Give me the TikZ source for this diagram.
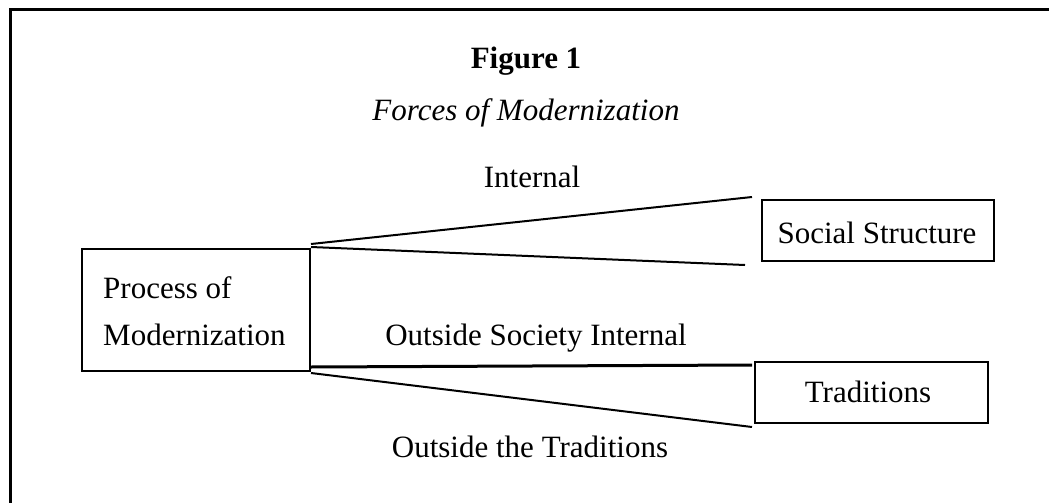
\documentclass[tikz,border=0pt]{standalone}
\usepackage{fontspec}
\setmainfont{Liberation Serif}
\begin{document}
\begin{tikzpicture}[x=1pt,y=-1pt,
  txt/.style={font=\fontsize{31}{47}\selectfont, inner sep=0pt, anchor=base},
  boxed/.style={draw, line width=2pt},
  conn/.style={line width=2pt}]
\useasboundingbox (0,0) rectangle (1049,503);
\clip (0,0) rectangle (1049,503);
\draw[line width=3pt] (10,10) rectangle (1070,530);
% boxes
\node[boxed, minimum width=228pt, minimum height=122pt, anchor=north west, inner sep=0pt] (proc) at (81,248) {};
\node[boxed, minimum width=232pt, minimum height=61pt, anchor=north west, inner sep=0pt] (soc) at (761,199) {};
\node[boxed, minimum width=233pt, minimum height=61pt, anchor=north west, inner sep=0pt] (trad) at (754,361) {};
% box texts
\node[txt, anchor=base west] (t1) at (103,298) {Process of};
\node[txt, anchor=base west] (t2) at (103,345) {Modernization};
\node[txt] (t3) at (877,243) {Social Structure};
\node[txt] (t4) at (868,402) {Traditions};
% titles
\node[txt, font=\fontsize{31}{37}\selectfont\bfseries] (fig) at (526,68) {Figure 1};
\node[txt, font=\fontsize{31}{37}\selectfont\itshape] (sub) at (526,120) {Forces of Modernization};
% labels
\node[txt] (l1) at (532,187) {Internal};
\node[txt] (l2) at (536,345) {Outside Society Internal};
\node[txt] (l3) at (530,457) {Outside the Traditions};
% connector free ends
\coordinate (e1) at (752,197);
\coordinate (e2) at (745,265);
\coordinate (e3) at (752,365);
\coordinate (e4) at (752,427);
\draw[conn] ([yshift=4pt]proc.north east) -- (e1);
\draw[conn] ([yshift=1pt]proc.north east) -- (e2);
\draw[conn, line width=3pt] ([yshift=5pt]proc.south east) -- (e3);
\draw[conn] ([yshift=-1pt]proc.south east) -- (e4);
\end{tikzpicture}
\end{document}
